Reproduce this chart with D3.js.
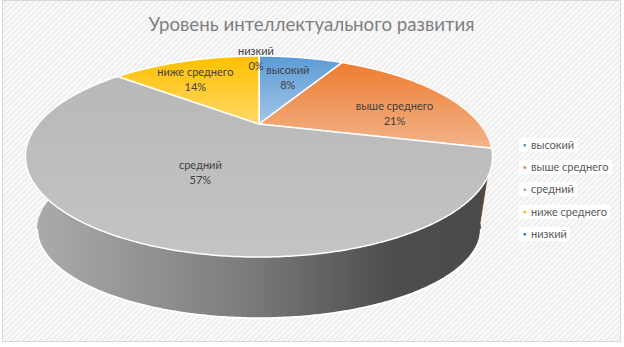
<!DOCTYPE html>
<html>
<head>
<meta charset="utf-8">
<script src="https://cdn.jsdelivr.net/npm/d3@7"></script>
<style>
  body { margin: 0; background: #fff; }
  svg { display: block; }
  text { font-family: Lato, "Open Sans", sans-serif; }
</style>
</head>
<body>
<div id="chart"></div>
<script>
// data
const categories = ["высокий", "выше среднего", "средний", "ниже среднего", "низкий"];
const values = [8, 21, 57, 14, 0];
const percentLabels = ["8%", "21%", "57%", "14%", "0%"];
const titleText = "Уровень интеллектуального развития";

// colours (top face gradient top / bottom, side colour)
const topColors = ["#5b9bd5", "#ed7d31", "#b8b8b8", "#ffc000", "#4472c4"];
const lowColors = ["#a4c6e9", "#f3b48a", "#c4c4c4", "#ffd966", "#8faadc"];
const legendColors = ["#5b9bd5", "#ed7d31", "#a5a5a5", "#ffc000", "#4472c4"];

const W = 624, H = 347;

// perspective ellipse set up: top face and bottom face
const k = 0.3234;
const topFace = { cx: 259, cy: 124, a: 221, b: 90 };
const botFace = { cx: 259, cy: 200, a: 210, b: 80 };

function proj(face, theta, r) {
  const X = r * Math.sin(theta), Z = r * Math.cos(theta);
  const w = 1 + k * Z;
  return [face.cx + face.a * X / w, face.cy - face.b * Z / w];
}

function arcPoints(face, a0, a1) {
  const n = Math.max(2, Math.ceil(Math.abs(a1 - a0) / 0.01));
  return d3.range(n + 1).map(i => proj(face, a0 + (a1 - a0) * i / n, 1));
}

const svg = d3.select("#chart").append("svg")
  .attr("width", W).attr("height", H);

const defs = svg.append("defs");

// hatched background
const pat = defs.append("pattern")
  .attr("id", "hatch").attr("patternUnits", "userSpaceOnUse")
  .attr("width", 4).attr("height", 4)
  .attr("patternTransform", "rotate(45)");
pat.append("rect").attr("width", 4).attr("height", 4).attr("fill", "#fbfbfb");
pat.append("rect").attr("width", 2).attr("height", 4).attr("fill", "#eeeeee");

svg.append("rect").attr("x", 0).attr("y", 0).attr("width", W).attr("height", H)
  .attr("fill", "#ffffff");
svg.append("rect").attr("x", 2.5).attr("y", 0.5).attr("width", 618).attr("height", 341)
  .attr("fill", "url(#hatch)").attr("stroke", "#d9d9d9");

// gradients for top faces
categories.forEach((c, i) => {
  const g = defs.append("linearGradient").attr("id", "tg" + i)
    .attr("x1", 0).attr("y1", 0).attr("x2", 0).attr("y2", 1);
  g.append("stop").attr("offset", "0%").attr("stop-color", topColors[i]);
  g.append("stop").attr("offset", "100%").attr("stop-color", lowColors[i]);
});

// side gradient (horizontal, light to dark)
const sg = defs.append("linearGradient").attr("id", "sideGray")
  .attr("gradientUnits", "userSpaceOnUse")
  .attr("x1", 30).attr("y1", 0).attr("x2", 490).attr("y2", 0);
sg.append("stop").attr("offset", "0%").attr("stop-color", "#acacac");
sg.append("stop").attr("offset", "45%").attr("stop-color", "#7e7e7e");
sg.append("stop").attr("offset", "78%").attr("stop-color", "#4e4e4e");
sg.append("stop").attr("offset", "100%").attr("stop-color", "#4a4a4a");
const sideFills = ["#3d6f9e", "#b35a1c", "url(#sideGray)", "#bf9000", "#2f5597"];

const pie = d3.pie().sort(null).value(d => d)(values);
const line = d3.line();

// sides (only the front half matters)
const sideMin = Math.PI / 2 - 0.6, sideMax = 3 * Math.PI / 2 + 0.6;
const gSide = svg.append("g");
pie.forEach((p, i) => {
  const a0 = Math.max(p.startAngle, sideMin), a1 = Math.min(p.endAngle, sideMax);
  if (a1 <= a0) return;
  const pts = arcPoints(topFace, a0, a1).concat(arcPoints(botFace, a0, a1).reverse());
  gSide.append("path").attr("d", line(pts) + "Z")
    .attr("fill", sideFills[i]).attr("stroke", sideFills[i] === "url(#sideGray)" ? "none" : sideFills[i]);
});
// white rim along the bottom edge
const silR = Math.acos(-k);
gSide.append("path")
  .attr("d", line(arcPoints(botFace, silR, 2 * Math.PI - silR)))
  .attr("fill", "none").attr("stroke", "#ffffff").attr("stroke-width", 2);

// top faces
const gTop = svg.append("g");
pie.forEach((p, i) => {
  if (p.endAngle - p.startAngle <= 0) return;
  const pts = [[topFace.cx, topFace.cy]].concat(arcPoints(topFace, p.startAngle, p.endAngle));
  gTop.append("path").attr("d", line(pts) + "Z")
    .attr("fill", "url(#tg" + i + ")")
    .attr("stroke", "#ffffff").attr("stroke-width", 1.5)
    .attr("stroke-linejoin", "round");
});

// data labels: radius fraction and small nudge per slice
const labelR = [0.6, 0.62, 0.5, 0.7, 1.12];
const labelNudge = [[1, -2], [19, 10], [0, 2], [-9, 3], [-3, 9]];
const gLab = svg.append("g").attr("fill", "#404040").attr("font-size", 11)
  .attr("text-anchor", "middle");
pie.forEach((p, i) => {
  const mid = (p.startAngle + p.endAngle) / 2;
  const [x, y] = proj(topFace, mid, labelR[i]);
  const cx = x + labelNudge[i][0], cy = y + labelNudge[i][1];
  const t = gLab.append("text").attr("x", cx).attr("y", cy - 7.5);
  t.append("tspan").attr("x", cx).attr("dy", "0.35em").text(categories[i]);
  t.append("tspan").attr("x", cx).attr("dy", 15).text(percentLabels[i]);
});

// title
svg.append("text").attr("x", 311.5).attr("y", 31)
  .attr("text-anchor", "middle").attr("font-size", 18.7)
  .attr("fill", "#7f7f7f").text(titleText);

// legend
const legendY = d3.scalePoint().domain(categories).range([145, 234]);
const gLeg = svg.append("g");
categories.forEach((c, i) => {
  const y = legendY(c);
  const txt = gLeg.append("text").attr("x", 531).attr("y", y).attr("dy", "0.35em")
    .attr("font-size", 11).attr("fill", "#595959").text(c);
  const w = txt.node().getComputedTextLength();
  gLeg.insert("rect", "text").attr("x", 519).attr("y", y - 7).attr("width", w + 15).attr("height", 14)
    .attr("fill", "#ffffff");
  gLeg.append("rect").attr("x", 523.5).attr("y", y - 1).attr("width", 2.5).attr("height", 2.5)
    .attr("fill", legendColors[i]);
});
</script>
</body>
</html>
